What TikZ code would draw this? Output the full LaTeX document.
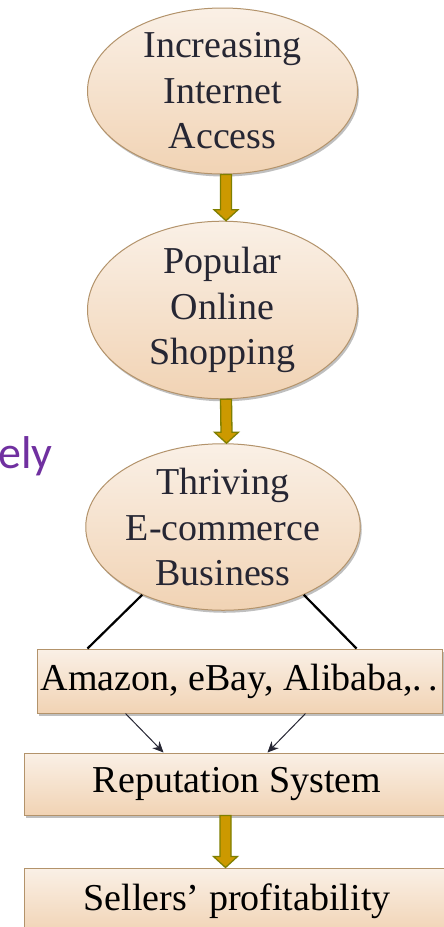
\documentclass[tikz,border=0pt]{standalone}
\usepackage{fontspec}
\setmainfont{Liberation Serif}
\newfontfamily\calib{Carlito}
\usetikzlibrary{shapes.geometric,shadows,calc,arrows.meta}
\definecolor{fillTop}{HTML}{FAF0E6}
\definecolor{fillBot}{HTML}{F1D3B4}
\definecolor{edge}{HTML}{B3936B}
\definecolor{gold}{HTML}{CC9900}
\definecolor{olive}{HTML}{7F7F00}
\definecolor{ink}{HTML}{262633}
\definecolor{purp}{HTML}{7030A0}
\newcommand\fatarrow[3]{%
  \draw[fat] ($(#1.south)+(#3-5.5,0)$) -- ($(#2.north)+(#3-5.5,-11)$)
    -- ($(#2.north)+(#3-12,-11)$) -- ($(#2.north)+(#3,0)$)
    -- ($(#2.north)+(#3+12,-11)$) -- ($(#2.north)+(#3+5.5,-11)$)
    -- ($(#1.south)+(#3+5.5,0)$) -- cycle;}
\begin{document}
\begin{tikzpicture}[x=1pt,y=-1pt,
  shade/.style={drop shadow={shadow xshift=1.5pt,shadow yshift=-2.5pt,opacity=0.25,fill=black}},
  blob/.style={ellipse, draw=edge, line width=1pt, top color=fillTop, bottom color=fillBot,
    minimum width=270pt, minimum height=166pt, inner sep=0pt, align=center,
    font=\fontsize{38}{45.5}\selectfont, text=ink, shade},
  plate/.style={rectangle, draw=edge, line width=1pt, top color=fillTop, bottom color=fillBot,
    inner sep=0pt, font=\fontsize{38}{45.5}\selectfont, text=black, shade},
  fat/.style={fill=gold, draw=olive, line width=1.3pt, line join=miter},
  thin/.style={draw=ink, line width=1pt, -{Stealth[length=11pt,width=10pt]}},
  link/.style={draw=black, line width=2.2pt}]
\useasboundingbox (0,0) rectangle (444,927);
\fill[white] (0,0) rectangle (444,927);
\node[anchor=base east, inner sep=0pt, text=purp, font=\calib\fontsize{46}{46}\selectfont] (ely) at (53,468) {ely};
\node[blob] (e1) at (222.5,91) {Increasing\\Internet\\Access};
\node[blob] (e2) at (222.5,310) {Popular\\Online\\Shopping};
\node[blob] (e3) at (223,527) {Thriving\\E-commerce\\Business};
\node[plate, minimum width=405pt, minimum height=64pt] (b1) at (239.5,681) {Amazon, eBay, Alibaba,.\,.};
\node[plate, minimum width=426pt, minimum height=62pt] (b2) at (237,784) {Reputation System};
\node[plate, minimum width=426pt, minimum height=67pt] (b3) at (237,901.5) {Sellers' profitability};
\fatarrow{e1}{e2}{3.5}
\fatarrow{e2}{e3}{3.5}
\fatarrow{b2}{b3}{-11.5}
\draw[link] (e3.220) -- ($(b1.north west)+(51,0)$);
\draw[link] (e3.320) -- ($(b1.north west)+(320,0)$);
\draw[thin] ($(b1.south west)+(89,0)$) -- ($(b2.north west)+(140,0)$);
\draw[thin] ($(b1.south west)+(269,0)$) -- ($(b2.north west)+(244,0)$);
\end{tikzpicture}
\end{document}
